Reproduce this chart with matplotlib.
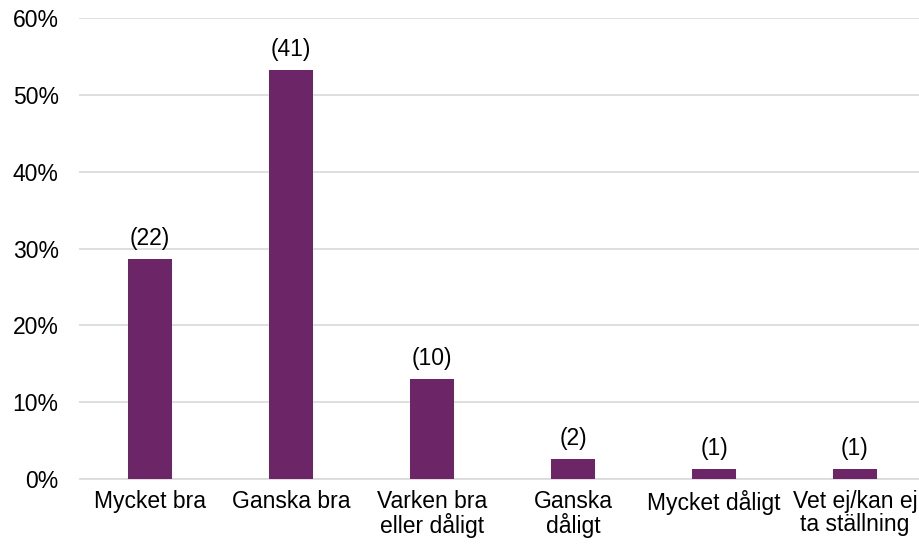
import numpy as np
import matplotlib.pyplot as plt

categories = ["Mycket bra", "Ganska bra", "Varken bra\neller dåligt",
              "Ganska\ndåligt", "Mycket dåligt", "Vet ej/kan ej\nta ställning"]
percent = [28.6, 53.2, 13.0, 2.6, 1.3, 1.3]
counts = [22, 41, 10, 2, 1, 1]
yticks = [0, 10, 20, 30, 40, 50, 60]

plt.rcParams['font.family'] = ['Liberation Sans', 'DejaVu Sans']

W, H = 920, 547
fig = plt.figure(figsize=(W / 100, H / 100), dpi=100)
left, right, top, bottom = 79.5, 925.5, 18, 479
ax = fig.add_axes([left / W, 1 - bottom / H, (right - left) / W, (bottom - top) / H])

fs = 16.5
x = np.arange(len(categories))
ax.bar(x, percent, width=0.31, color='#6C2667', zorder=3)
for xi, p, c in zip(x, percent, counts):
    ax.text(xi, p + 1.2, f"({c})", ha='center', va='bottom', fontsize=fs)

ax.set_xlim(-0.5, len(categories) - 0.5)
ax.set_ylim(0, 60)
ax.set_yticks(yticks)
ax.set_yticklabels([f"{t}%" for t in yticks], fontsize=fs)
ax.set_xticks(x)
ax.set_xticklabels(categories, fontsize=fs, linespacing=0.97)
ax.tick_params(axis='x', length=0, pad=8)
ax.tick_params(axis='y', length=0, pad=15)
ax.grid(axis='y', color='#d9d9d9', linewidth=1.2, zorder=0)
for s in ['top', 'right', 'left']:
    ax.spines[s].set_visible(False)
ax.spines['bottom'].set_color('#d9d9d9')
ax.spines['bottom'].set_linewidth(1.2)

fig.savefig("out.png", dpi=100)
